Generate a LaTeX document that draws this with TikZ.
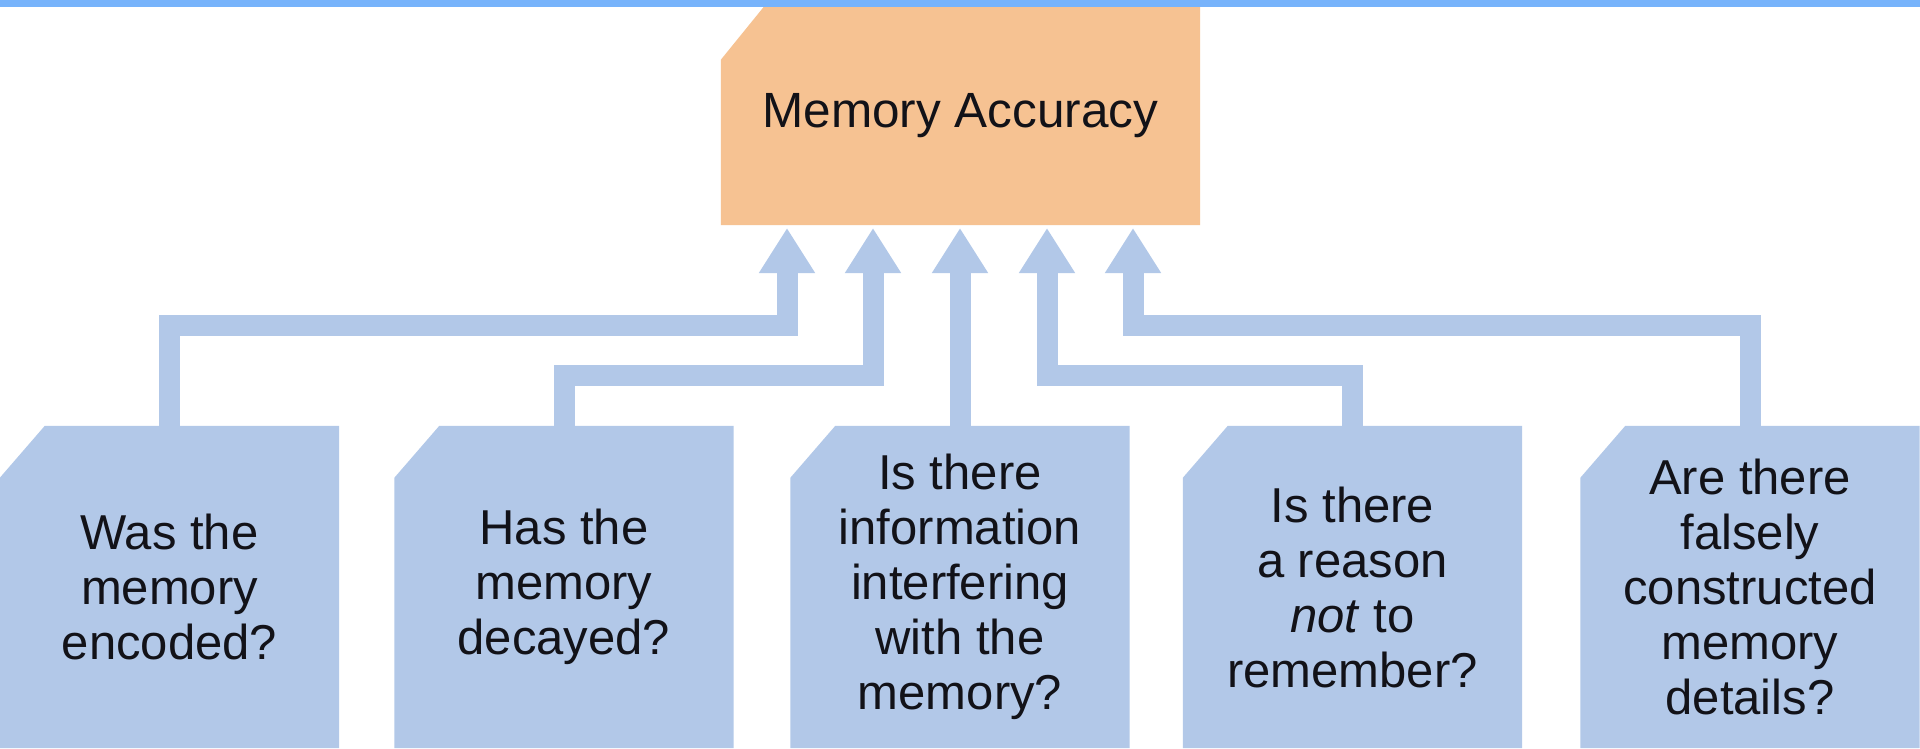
\documentclass[tikz,border=0pt]{standalone}
\usepackage{fontspec}
\setmainfont{Liberation Sans}
\usetikzlibrary{arrows.meta}
\definecolor{barblue}{RGB}{119,179,251}
\definecolor{boxblue}{RGB}{178,200,232}
\definecolor{accorange}{RGB}{246,194,146}
\definecolor{txt}{RGB}{18,18,24}
\pgfdeclarelayer{background}
\pgfsetlayers{background,main}
\tikzset{
  qbox/.style={minimum width=339pt, minimum height=322pt, inner sep=0pt,
    align=center, text=txt, font=\fontsize{49}{55}\selectfont},
  accbox/.style={minimum width=479pt, minimum height=218pt, inner sep=0pt,
    text=txt, font=\fontsize{49.5}{55}\selectfont},
  conn/.style={draw=boxblue, line width=21pt, line join=miter,
    -{Triangle[width=53pt,length=45pt]}},
}
\newcommand\chamfill[2]{%
  \fill[#1] (#2.south west) -- ([yshift=-52pt]#2.north west)
    -- ([xshift=45pt]#2.north west) -- (#2.north east)
    -- (#2.south east) -- cycle;}
\begin{document}
\begin{tikzpicture}[x=1pt,y=-1pt]
\useasboundingbox (0,0) rectangle (1920,748);

% nodes
\node[accbox] (acc) at (960.5,116) {Memory Accuracy};
\node[qbox] (b1) at (169.5,587) {Was the\\memory\\encoded?};
\node[qbox] (b2) at (564,587) {Has the\\memory\\decayed?};
\node[qbox] (b3) at (960,587) {Is there\\information\\interfering\\with the\\memory?};
\node[qbox] (b4) at (1352.5,587) {Is there\\a reason\\\textit{not} to\\remember?};
\node[qbox] (b5) at (1750,587) {Are there\\falsely\\constructed\\memory\\details?};

% arrow tips and elbow levels
\coordinate (t1) at (787,228);
\coordinate (t2) at (873,228);
\coordinate (t3) at (960,228);
\coordinate (t4) at (1047,228);
\coordinate (t5) at (1133,228);
\coordinate (h1) at (0,325);
\coordinate (h2) at (0,375);

\begin{pgfonlayer}{background}
  \fill[white] (0,0) rectangle (1920,748);
  \draw[conn] (b1.north) -- (b1.north |- h1) -| (t1);
  \draw[conn] (b2.north) -- (b2.north |- h2) -| (t2);
  \draw[conn] (b3.north) -- (t3);
  \draw[conn] (b4.north) -- (b4.north |- h2) -| (t4);
  \draw[conn] (b5.north) -- (b5.north |- h1) -| (t5);
  \fill[accorange] (acc.south west) -- ([yshift=-53pt]acc.north west)
    -- ([xshift=43pt]acc.north west) -- (acc.north east)
    -- (acc.south east) -- cycle;
  \chamfill{boxblue}{b1}
  \chamfill{boxblue}{b2}
  \chamfill{boxblue}{b3}
  \chamfill{boxblue}{b4}
  \chamfill{boxblue}{b5}
\end{pgfonlayer}

% top bar
\fill[barblue] (0,0) rectangle (1920,7);
\end{tikzpicture}
\end{document}
